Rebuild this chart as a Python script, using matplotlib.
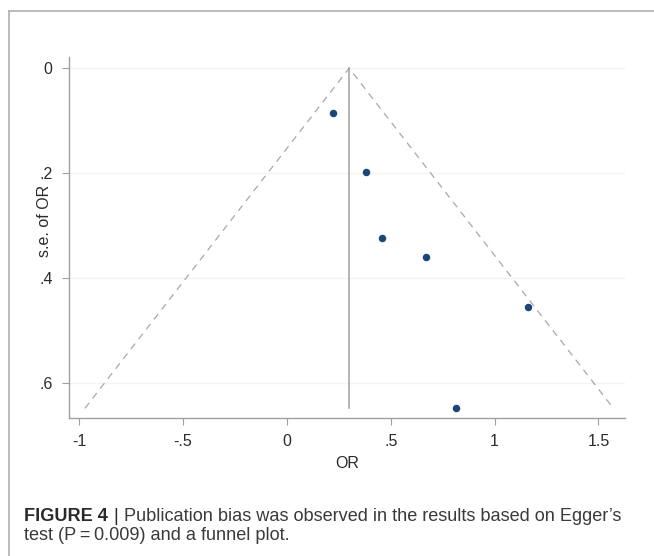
import numpy as np
import matplotlib.pyplot as plt
from matplotlib.lines import Line2D

plt.rcParams['font.family'] = ['Liberation Sans', 'DejaVu Sans']

# study estimates (OR, s.e.)
odds_ratio = [0.22, 0.38, 0.46, 0.67, 1.16, 0.815]
se_of_or = [0.085, 0.198, 0.324, 0.361, 0.456, 0.649]
pooled = 0.30

xticks = [-1, -0.5, 0, 0.5, 1, 1.5]
xticklabels = ['-1', '-.5', '0', '.5', '1', '1.5']
yticks = [0, 0.2, 0.4, 0.6]
yticklabels = ['0', '.2', '.4', '.6']

fig = plt.figure(figsize=(6.54, 5.56), dpi=100)
ax = fig.add_axes([0.106, 0.2487, 0.850, 0.649])

# pseudo 95% confidence limits
se_max = max(se_of_or)
ax.plot([pooled - 1.96 * se_max, pooled, pooled + 1.96 * se_max],
        [se_max, 0, se_max], ls=(0, (5.5, 4.5)), color='#a8a8a8', lw=0.9)
ax.plot([pooled, pooled], [0, se_max], color='#a0a0a0', lw=1.1)
ax.plot(odds_ratio, se_of_or, 'o', ms=5.4, color='#1a4876', mec='none', zorder=3)

ax.set_xlim(-1.047, 1.629)
ax.set_ylim(0.667, -0.0216)
ax.set_xticks(xticks)
ax.set_xticklabels(xticklabels)
ax.set_yticks(yticks)
ax.set_yticklabels(yticklabels)
ax.grid(axis='y', color='#f3f3f3', lw=1)
ax.set_axisbelow(True)

for s in ['top', 'right']:
    ax.spines[s].set_visible(False)
for s in ['left', 'bottom']:
    ax.spines[s].set_color('#a0a0a0')
    ax.spines[s].set_linewidth(1)
ax.tick_params(length=5, width=0.8, color='#a0a0a0', labelsize=11.5,
               labelcolor='#2b2b2b', pad=7)

ax.set_xlabel('OR', fontsize=11.5, color='#2b2b2b', labelpad=4.5)
ax.set_ylabel('s.e. of OR', fontsize=11.5, color='#2b2b2b')
ax.yaxis.set_label_coords(-0.031, 0.545)

# outer frame (left and top edges)
fig.add_artist(Line2D([9 / 654, 9 / 654], [0, 1 - 11 / 556],
                      transform=fig.transFigure, color='#b0b0b0', lw=1.2))
fig.add_artist(Line2D([9 / 654, 1], [1 - 11 / 556, 1 - 11 / 556],
                      transform=fig.transFigure, color='#b0b0b0', lw=1.2))

# caption
cap_size = 13.1
t1 = fig.text(24 / 654, 1 - 525 / 556, 'FIGURE 4', fontsize=cap_size,
              fontweight='bold', color='#2a2a2a', va='bottom')
t2 = ax.annotate('|', xy=(1, 0), xycoords=t1, xytext=(4, 0),
                 textcoords='offset points', fontsize=cap_size,
                 color='#2a2a2a', va='bottom', annotation_clip=False)
ax.annotate('Publication bias was observed in the results based on Egger\u2019s',
            xy=(1, 0), xycoords=t2, xytext=(4, 0), textcoords='offset points',
            fontsize=cap_size, color='#3a3a3a', va='bottom', annotation_clip=False)
fig.text(24 / 654, 1 - 544 / 556, 'test (P\u2009=\u20090.009) and a funnel plot.',
         fontsize=cap_size, color='#3a3a3a', va='bottom')

fig.savefig('out.png', dpi=100)
